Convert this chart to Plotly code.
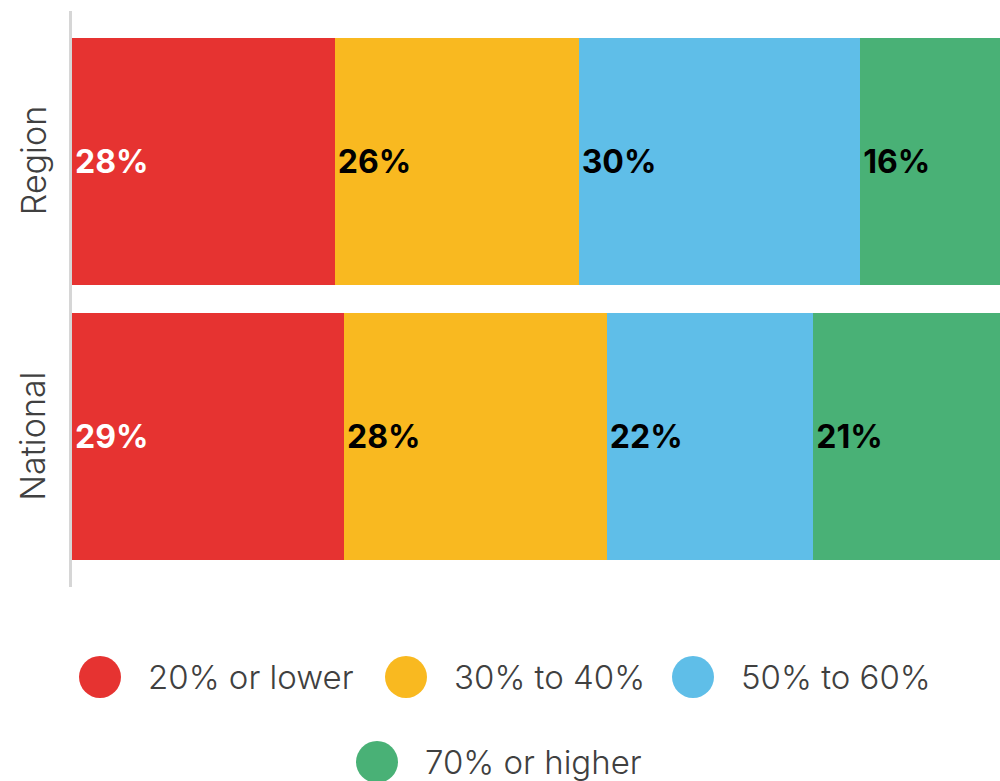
import plotly.graph_objects as go

categories = ["Region", "National"]
series_names = ["20% or lower", "30% to 40%", "50% to 60%", "70% or higher"]
colors = ["#E63331", "#F9B920", "#5FBEE8", "#49B176"]
text_colors = ["#FFFFFF", "#000000", "#000000", "#000000"]
region_values = [28, 26, 30, 16]
national_values = [29, 28, 22, 21]

W, H = 1000, 781
ML, MR, MT, MB = 72, 0, 11, 781 - 587
PW, PH = W - ML - MR, H - MT - MB

def px(x):
    return (x - ML) / PW

def py(y):
    return (H - MB - y) / PH

FONT = "Inter"

fig = go.Figure()
for i, name in enumerate(series_names):
    vals = [region_values[i], national_values[i]]
    fig.add_trace(go.Bar(
        y=categories, x=vals, orientation="h", name=name,
        marker=dict(color=colors[i], line=dict(width=0)),
        text=[f"{v}%" for v in vals], textposition="inside",
        insidetextanchor="start",
        textfont=dict(family=FONT, size=32, color=text_colors[i], weight="bold"),
        showlegend=False, hoverinfo="skip",
    ))

fig.update_layout(
    width=W, height=H, barmode="stack", bargap=0.105,
    margin=dict(l=ML, r=MR, t=MT, b=MB),
    paper_bgcolor="white", plot_bgcolor="white",
    uniformtext=dict(mode=False),
    xaxis=dict(range=[0, 98.9], visible=False, fixedrange=True),
    yaxis=dict(
        categoryorder="array", categoryarray=categories,
        range=[1.545, -0.545], showticklabels=False, ticks="",
        showgrid=False, zeroline=False, fixedrange=True,
        showline=True, linecolor="#D6D6D6", linewidth=3,
    ),
    showlegend=False,
)

# category labels, rotated
for c in categories:
    fig.add_annotation(
        x=px(33), xref="paper", y=c, yref="y", text=c, textangle=-90,
        showarrow=False, xanchor="center", yanchor="middle",
        font=dict(family=FONT, size=34, color="#404040", weight=300),
    )

# manual legend with large circles
legend_pos = [(100, 677), (406, 677), (693, 677), (377, 762)]
R = 21
for (cx, cy), name, col in zip(legend_pos, series_names, colors):
    fig.add_shape(
        type="circle", xref="paper", yref="paper",
        xsizemode="pixel", ysizemode="pixel",
        xanchor=px(cx), yanchor=py(cy),
        x0=-R, x1=R, y0=-R, y1=R,
        fillcolor=col, line=dict(width=0),
    )
    fig.add_annotation(
        x=px(cx + 46), xref="paper", y=py(cy), yref="paper", text=name,
        showarrow=False, xanchor="left", yanchor="middle",
        font=dict(family=FONT, size=33, color="#404040", weight=300),
    )

fig.write_html(
    "out.html",
    config={"displayModeBar": False},
    post_script="document.body.style.margin='0';document.body.style.overflow='hidden';",
)
